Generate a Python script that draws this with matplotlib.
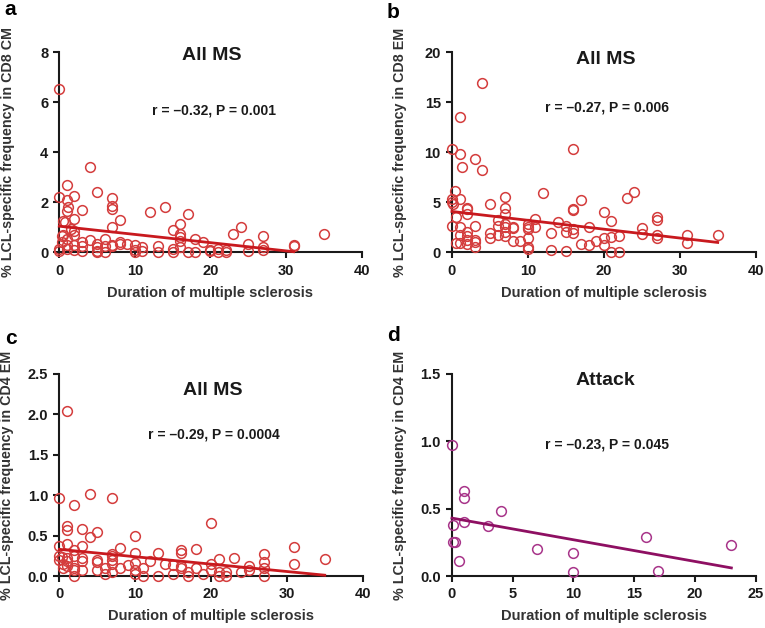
import matplotlib
matplotlib.use("Agg")
import matplotlib.pyplot as plt

plt.rcParams["font.family"] = ["Liberation Sans", "DejaVu Sans"]

# Panel a - CD8 CM, all MS
a_x = [0, 0, 0, 0, 4, 1, 1, 1.2, 1, 2, 3, 5, 2, 7, 7, 7, 7, 8, 0.5, 0.7,
       12, 14, 17, 16, 15, 16, 16, 16, 18, 19, 23, 24, 25, 27, 27, 27, 31, 31, 35,
       20, 20, 21, 21, 22, 22, 13, 13, 10, 10, 10, 11, 11, 9, 8, 8, 7, 7, 6, 6, 6,
       5, 5, 5, 5, 4, 3, 3, 3, 2, 2, 2, 2, 1, 1, 1, 0.3, 0.5, 0.3, 15, 15, 16,
       17, 18, 25, 1.5]
a_y = [6.55, 2.2, 0.15, 0.05, 3.42, 2.7, 2.1, 1.8, 1.65, 2.27, 1.7, 2.4, 1.35,
       2.17, 1.85, 1.72, 1.0, 1.3, 1.25, 1.2, 1.62, 1.83, 1.52, 1.12, 0.9, 0.75,
       0.6, 0.45, 0.55, 0.4, 0.75, 1.02, 0.35, 0.65, 0.2, 0.1, 0.28, 0.25, 0.72,
       0.1, 0.05, 0.15, 0.0, 0.1, 0.0, 0.25, 0.0, 0.3, 0.1, 0.0, 0.2, 0.05, 0.35,
       0.35, 0.4, 0.3, 0.25, 0.55, 0.25, 0.0, 0.35, 0.2, 0.05, 0.0, 0.5, 0.4,
       0.25, 0.05, 0.7, 0.85, 0.3, 0.1, 0.55, 0.3, 0.15, 0.65, 0.7, 0.4, 0.15,
       0.0, 0.2, 0.0, 0.0, 0.05, 0.95]
a_fit_x = [0, 31]
a_fit_y = [1.05, 0.03]

# Panel b - CD8 EM, all MS
b_x = [4, 1, 0, 1, 3, 1.3, 4, 16, 12, 24, 23, 17, 16, 16, 20, 7, 7, 7, 5, 0.4,
       0, 0, 0.2, 1, 2, 2, 2, 0.5, 21, 27, 27, 27, 27, 25, 25, 31, 31, 35, 22,
       21, 20, 20, 19, 18, 17, 18, 15, 15, 15, 16, 16, 14, 13, 13, 11, 11, 10,
       10, 10, 10, 10, 10, 9, 8, 8, 8, 7, 7, 7, 7, 6, 6, 6, 5, 5, 3, 3, 3, 3,
       2, 2, 2, 2, 1, 1, 1, 0.5, 0, 21, 22]
b_y = [16.9, 13.5, 10.3, 9.8, 9.35, 8.5, 8.2, 10.3, 5.9, 6.05, 5.4, 5.2, 4.3,
       4.25, 4.05, 5.55, 4.4, 3.8, 4.8, 6.1, 5.3, 5.0, 4.8, 5.3, 4.3, 4.4, 3.8,
       3.5, 3.15, 3.5, 3.2, 1.7, 1.4, 2.4, 1.8, 1.7, 0.9, 1.7, 1.6, 1.5, 1.4,
       0.7, 1.1, 2.5, 0.8, 0.7, 2.6, 2.0, 0.1, 2.3, 1.9, 3.0, 1.9, 0.2, 3.3,
       2.5, 2.8, 2.5, 2.3, 1.4, 0.5, 0.3, 1.1, 2.5, 2.4, 1.1, 2.8, 2.5, 2.0,
       1.6, 3.2, 2.6, 1.7, 1.9, 1.4, 2.6, 1.2, 1.0, 0.5, 2.0, 1.6, 0.8, 1.2,
       2.5, 1.7, 0.9, 0.9, 2.6, 0.05, 0.05]
b_fit_x = [0, 35]
b_fit_y = [4.1, 1.0]

# Panel c - CD4 EM, all MS
c_x = [1, 4, 0, 7, 2, 20, 1, 1, 3, 5, 4, 10, 31, 31, 35, 27, 27, 27, 27, 18,
       16, 16, 13, 10, 8, 3, 1, 0, 0, 0.3, 7, 7, 7, 7, 7, 23, 21, 20, 25, 25,
       24, 22, 21, 22, 19, 18, 17, 17, 16, 16, 15, 15, 14, 13, 12, 11, 11, 10,
       10, 10, 9, 8, 6, 6, 5, 5, 5, 3, 3, 3, 2, 2, 2, 2, 2, 1, 1, 1, 0.5, 0.5,
       0, 20, 21]
c_y = [2.04, 1.02, 0.97, 0.96, 0.88, 0.66, 0.62, 0.57, 0.58, 0.55, 0.48, 0.49,
       0.36, 0.15, 0.21, 0.27, 0.17, 0.1, 0.0, 0.34, 0.32, 0.29, 0.28, 0.29,
       0.35, 0.37, 0.4, 0.37, 0.25, 0.24, 0.27, 0.25, 0.2, 0.15, 0.05, 0.22,
       0.21, 0.15, 0.12, 0.07, 0.05, 0.05, 0.0, 0.0, 0.03, 0.1, 0.05, 0.0,
       0.12, 0.1, 0.02, 0.14, 0.15, 0.0, 0.19, 0.1, 0.0, 0.16, 0.08, 0.03,
       0.13, 0.1, 0.1, 0.03, 0.2, 0.17, 0.08, 0.22, 0.18, 0.08, 0.25, 0.1,
       0.07, 0.0, 0.32, 0.22, 0.18, 0.12, 0.15, 0.1, 0.2, 0.08, 0.05]
c_fit_x = [0, 35]
c_fit_y = [0.33, 0.01]

# Panel d - CD4 EM, attack
d_x = [0, 1, 1, 1, 4, 0.1, 0.1, 0.25, 0.6, 3, 7, 10, 10, 16, 17, 23]
d_y = [0.97, 0.63, 0.58, 0.4, 0.48, 0.38, 0.25, 0.25, 0.11, 0.37, 0.2, 0.17,
       0.03, 0.29, 0.04, 0.23]
d_fit_x = [0, 23]
d_fit_y = [0.43, 0.06]

RED_MARK = "#d43d3d"
RED_LINE = "#c8191e"
PURPLE_MARK = "#a8358a"
PURPLE_LINE = "#8e0f62"
INK = "#1a1a1a"


# tick text: integers stay integers, fractions get one decimal
def yticks_fmt(ticks):
    if all(float(t).is_integer() for t in ticks):
        return [str(int(t)) for t in ticks]
    return [f"{t:.1f}" for t in ticks]


# draws one scatter panel with its fit line and labels
def draw_panel(ax, x, y, fit_x, fit_y, xmax, ymax, yticks, xticks, ylabel,
               title, stat, letter, mark_color, line_color, title_y, stat_y,
               letter_pos):
    ax.plot(x, y, "o", mfc="none", mec=mark_color, mew=1.1, ms=7,
            clip_on=False, zorder=3)
    ax.plot(fit_x, fit_y, "-", color=line_color, lw=2.0, clip_on=False, zorder=4)
    ax.set_xlim(0, xmax)
    ax.set_ylim(0, ymax)
    ax.set_xticks(xticks)
    ax.set_yticks(yticks)
    ax.set_yticklabels(yticks_fmt(yticks))
    for side in ("top", "right"):
        ax.spines[side].set_visible(False)
    for side in ("left", "bottom"):
        ax.spines[side].set_linewidth(1.5)
        ax.spines[side].set_color(INK)
    ax.tick_params(direction="out", length=4, width=1.5, colors=INK,
                   labelsize=10.5, pad=4)
    for lab in ax.get_xticklabels() + ax.get_yticklabels():
        lab.set_fontweight("bold")
    ax.set_xlabel("Duration of multiple sclerosis", fontsize=10.5,
                  fontweight="bold", color="#333333", labelpad=6)
    ax.set_ylabel(ylabel, fontsize=10.3, fontweight="bold", color="#333333")
    ax.yaxis.set_label_coords(-0.148, 0.5)
    ax.text(0.505, title_y, title, transform=ax.transAxes, ha="center",
            va="center", fontsize=14, fontweight="bold", color=INK)
    ax.text(0.51, stat_y, stat, transform=ax.transAxes, ha="center",
            va="center", fontsize=10, fontweight="bold", color=INK)
    ax.text(letter_pos[0], letter_pos[1], letter, transform=ax.transAxes,
            ha="left", va="center", fontsize=15, fontweight="bold",
            color="black")


fig = plt.figure(figsize=(7.65, 6.28), dpi=100)
ax_a = fig.add_axes([0.0775, 0.598, 0.3953, 0.3185])
ax_b = fig.add_axes([0.5908, 0.598, 0.397, 0.3185])
ax_c = fig.add_axes([0.0775, 0.0828, 0.3965, 0.3217])
ax_d = fig.add_axes([0.5908, 0.0828, 0.397, 0.3217])

draw_panel(ax_a, a_x, a_y, a_fit_x, a_fit_y, 40, 8, [0, 2, 4, 6, 8],
           [0, 10, 20, 30, 40], "% LCL-specific frequency in CD8 CM",
           "All MS", "r = \u20130.32, P = 0.001", "a", RED_MARK, RED_LINE,
           0.985, 0.71, (-0.182, 1.215))
draw_panel(ax_b, b_x, b_y, b_fit_x, b_fit_y, 40, 20, [0, 5, 10, 15, 20],
           [0, 10, 20, 30, 40], "% LCL-specific frequency in CD8 EM",
           "All MS", "r = \u20130.27, P = 0.006", "b", RED_MARK, RED_LINE,
           0.967, 0.726, (-0.215, 1.2))
draw_panel(ax_c, c_x, c_y, c_fit_x, c_fit_y, 40, 2.5,
           [0.0, 0.5, 1.0, 1.5, 2.0, 2.5], [0, 10, 20, 30, 40],
           "% LCL-specific frequency in CD4 EM", "All MS",
           "r = \u20130.29, P = 0.0004", "c", RED_MARK, RED_LINE, 0.92, 0.70,
           (-0.178, 1.175))
draw_panel(ax_d, d_x, d_y, d_fit_x, d_fit_y, 25, 1.5, [0.0, 0.5, 1.0, 1.5],
           [0, 5, 10, 15, 20, 25], "% LCL-specific frequency in CD4 EM",
           "Attack", "r = \u20130.23, P = 0.045", "d", PURPLE_MARK,
           PURPLE_LINE, 0.967, 0.65, (-0.215, 1.19))

fig.savefig("out.png", dpi=100)
